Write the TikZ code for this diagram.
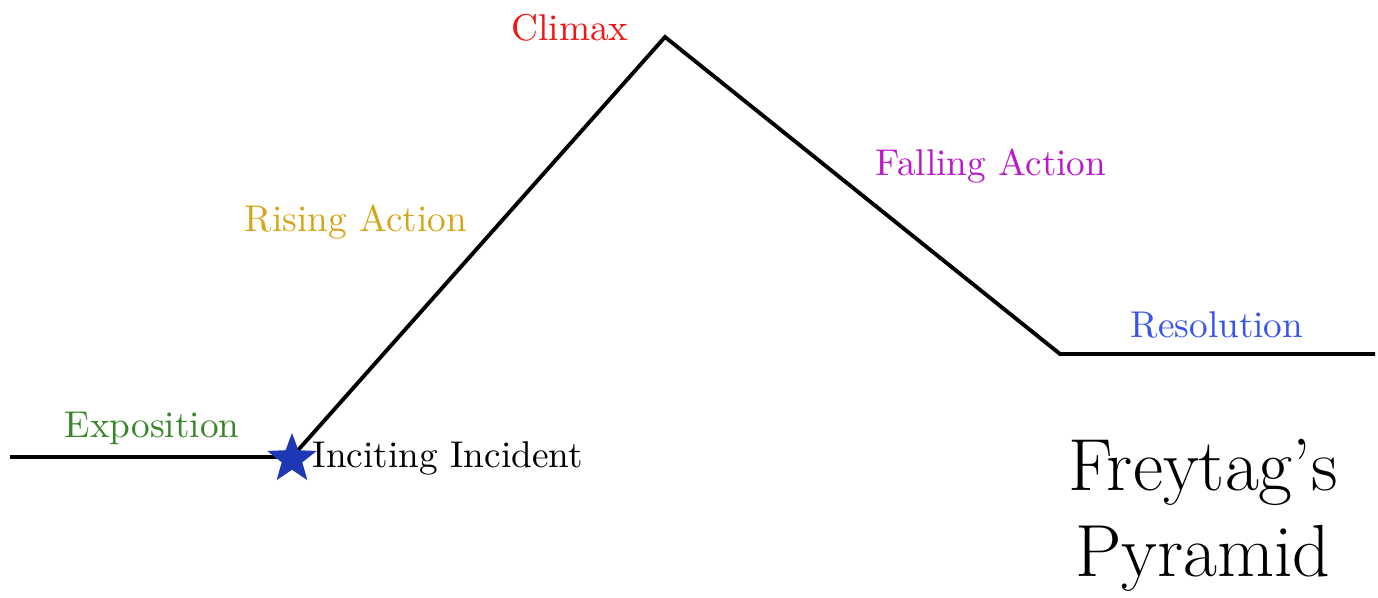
\documentclass[tikz,border=0pt]{standalone}
\usetikzlibrary{shapes.geometric}
\definecolor{climaxred}{RGB}{240,20,20}
\definecolor{risegold}{RGB}{215,165,25}
\definecolor{fallpurple}{RGB}{185,25,200}
\definecolor{resblue}{RGB}{55,85,235}
\definecolor{expgreen}{RGB}{55,135,40}
\definecolor{starblue}{RGB}{30,55,180}
\tikzset{
  lbl/.style={inner sep=0pt, font=\fontsize{10.6}{13}\selectfont},
  plot/.style={line width=1.1pt, line join=miter},
}
\begin{document}
\begin{tikzpicture}[x=0.01cm,y=-0.01cm]
\useasboundingbox (0,0) rectangle (1378,598);
\coordinate (s) at (10,457);
\coordinate (inc) at (292,457);
\coordinate (peak) at (665,37);
\coordinate (fall) at (1060,354);
\coordinate (e) at (1375,354);
\draw[plot] (s) -- (inc) -- (peak) -- (fall) -- (e);
\node[star, star points=5, star point ratio=2.4, fill=starblue, inner sep=0pt, minimum size=0.52cm] (starnode) at (292,459) {};
\node[lbl, text=climaxred] (climax) at (570,28) {Climax};
\node[lbl, text=risegold] (rising) at (356,222) {Rising Action};
\node[lbl, text=fallpurple] (falling) at (991,166) {Falling Action};
\node[lbl, text=resblue] (res) at (1217,325) {Resolution};
\node[lbl, text=expgreen] (expo) at (152,428) {Exposition};
\node[lbl, anchor=west] (incl) at (312,458) {Inciting Incident};
\node[inner sep=0pt, font=\fontsize{21}{25}\selectfont] (t1) at (1203,472) {Freytag's};
\node[inner sep=0pt, font=\fontsize{21}{25}\selectfont] (t2) at (1203,558) {Pyramid};
\end{tikzpicture}
\end{document}
